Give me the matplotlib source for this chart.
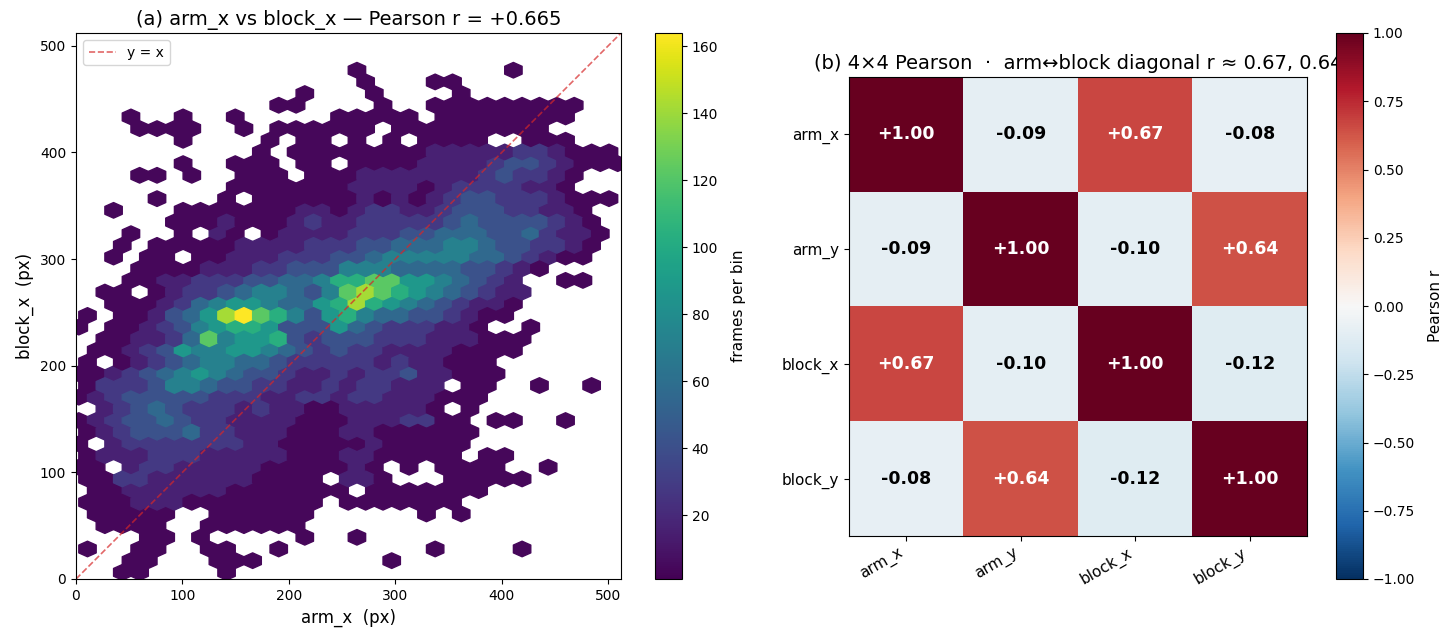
import numpy as np
import matplotlib
matplotlib.use("Agg")
import matplotlib.pyplot as plt

# ── hexbin lattice (arm_x / block_x in px) ──
x_lo, x_hi, y_lo, y_hi = 2.63, 508.9, -4.7, 477.1
n_x, n_y = 31, 22

# approximate frames per bin for each colour step seen in the picture
level_counts = {"1": 4, "2": 16, "3": 28, "4": 42, "5": 56, "6": 72,
                "7": 88, "8": 104, "9": 122, "a": 142, "b": 164}

# one string per hex row, top row first ('.' = empty cell).
# rows alternate between the main lattice (32 cells) and the offset one (31)
hex_rows = [
    "................1........1......",
    "................1...11.........",
    ".............1...1....1.........",
    "...........11....1..111111111..",
    "...1..1..1.....11111.11111111...",
    "...1111..1.111111.111111111....",
    "......1....1.11.1.1.1111..111...",
    "..........1.1111111122222332111",
    "......1..111.11.1111222234432111",
    "...11.1..111.1112222222343321..",
    ".........11111112222123333221...",
    "....1...1.111111212123443332111",
    "..1...111111122123322344433221..",
    ".....1112111232233333454444321.",
    "...1..1.21.12222333445554453221.",
    "..1.11111222233344555665443321.",
    "..1.11.11222333445666665543211..",
    "...111122233444666555544321....",
    "...11223334455688997765432..11..",
    ".11.123345665469a987654322.....",
    "..11123567765578a876543221......",
    "1.112457ab986478655443211......",
    "1.1123467887444754333221..1.....",
    ".1122359677843444333222111.....",
    ".1123476677654343322221111......",
    "1.1234566554333332322111.......",
    "1123456765443223233422111.......",
    "133346654433223233222.11..1..1.",
    "123444443332233233222111........",
    ".23454333232211222221.1........",
    "12344543322221112223311.11..1...",
    "12344453322211122111111........",
    "1.233333332211111211111.........",
    "1222333222221112211111.11......",
    "11.233222221111121.1.1111..1....",
    "11332222221111.221...11111.....",
    ".112222221111111.1111111........",
    "11122211111111.1111111.........",
    ".11111..111111......1.1.........",
    ".1111..111111..................",
    "....11.1.....1..1...............",
    "1..11..11..1........1....1.....",
    "...11...111.......1.............",
    "..11....1......................",
    "................................",
]

# ── 4x4 Pearson matrix ──
var_names = ["arm_x", "arm_y", "block_x", "block_y"]
corr = [
    [1.00, -0.09, 0.67, -0.08],
    [-0.09, 1.00, -0.10, 0.64],
    [0.67, -0.10, 1.00, -0.12],
    [-0.08, 0.64, -0.12, 1.00],
]
pearson_ab = 0.665

# rebuild cell centres from the row strings
sx = (x_hi - x_lo) / n_x
sy = (y_hi - y_lo) / n_y
xs, ys, cs = [], [], []
for r, row in enumerate(reversed(hex_rows)):
    j = r // 2
    off = 0.5 if r % 2 else 0.0
    for i, ch in enumerate(row):
        if ch == ".":
            continue
        xs.append(x_lo + (i + off) * sx)
        ys.append(y_lo + (j + off) * sy)
        cs.append(level_counts[ch])

W, H = 1456, 641
fig = plt.figure(figsize=(W / 100, H / 100), dpi=100)


def box(x0, y0, x1, y1):
    # pixel box (top-left origin) -> figure fraction rect
    return [x0 / W, 1 - y1 / H, (x1 - x0) / W, (y1 - y0) / H]


ax1 = fig.add_axes(box(76, 33, 621, 579))
cax1 = fig.add_axes(box(655, 33, 682, 579))
ax2 = fig.add_axes(box(849, 77, 1307, 536))
cax2 = fig.add_axes(box(1336, 33, 1363, 579))

# ── (a) hexbin ──
hb = ax1.hexbin(xs, ys, C=cs, reduce_C_function=np.sum,
                gridsize=(n_x, n_y), extent=(x_lo, x_hi, y_lo, y_hi),
                cmap="viridis", mincnt=1, vmin=1)
ax1.plot([0, 512], [0, 512], "--", color="tab:red", alpha=0.7, lw=1.2,
         label="y = x")
ax1.set_xlim(0, 512)
ax1.set_ylim(0, 512)
ax1.set_xticks(np.arange(0, 501, 100))
ax1.set_yticks(np.arange(0, 501, 100))
ax1.set_xlabel("arm_x  (px)", fontsize=12)
ax1.set_ylabel("block_x  (px)", fontsize=12)
ax1.set_title(f"(a) arm_x vs block_x — Pearson r = {pearson_ab:+.3f}", fontsize=14)
ax1.legend(loc="upper left", fontsize=10)
cb1 = fig.colorbar(hb, cax=cax1)
cb1.set_label("frames per bin", fontsize=11, labelpad=9)

# ── (b) correlation heatmap ──
cm = np.array(corr)
im = ax2.imshow(cm, cmap="RdBu_r", vmin=-1, vmax=1, aspect="auto")
ax2.set_xticks(range(len(var_names)))
ax2.set_yticks(range(len(var_names)))
ax2.set_xticklabels(var_names, rotation=30, ha="right", fontsize=11)
ax2.set_yticklabels(var_names, fontsize=11)
for i in range(cm.shape[0]):
    for j in range(cm.shape[1]):
        v = cm[i, j]
        ax2.text(j, i, f"{v:+.2f}", ha="center", va="center",
                 fontsize=12.5, fontweight="bold",
                 color="white" if abs(v) > 0.5 else "black")
ax2.set_title("(b) 4×4 Pearson  ·  arm↔block diagonal r ≈ 0.67, 0.64", fontsize=14)
cb2 = fig.colorbar(im, cax=cax2, ticks=np.linspace(-1, 1, 9))
cb2.set_label("Pearson r", fontsize=11, labelpad=9)

fig.savefig("out.png", dpi=100)
plt.close(fig)
